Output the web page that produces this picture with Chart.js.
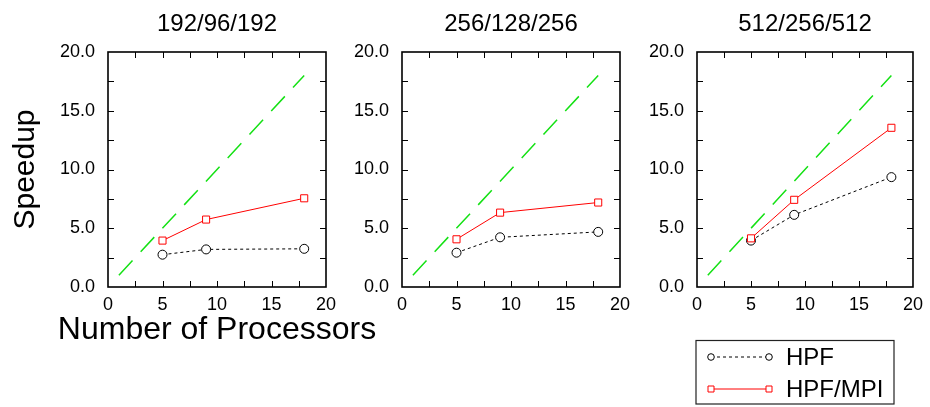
<!DOCTYPE html>
<html>
<head>
<meta charset="utf-8">
<script src="https://cdn.jsdelivr.net/npm/chart.js@4/dist/chart.umd.min.js"></script>
<style>
  body { margin: 0; background: #fff; }
  #wrap { position: relative; width: 930px; height: 407px; }
  canvas { position: absolute; top: 0; }
</style>
</head>
<body>
<div id="wrap">
  <canvas id="c1" width="400" height="407" style="left:0px"></canvas>
  <canvas id="c2" width="300" height="407" style="left:340px"></canvas>
  <canvas id="c3" width="300" height="407" style="left:630px"></canvas>
</div>
<script>
// data
const processors = [5, 9, 18];
const idealX = [1, 18];
const idealY = [1, 18];
const panelTitles = ['192/96/192', '256/128/256', '512/256/512'];
const hpfSpeedup = [
    [2.75, 3.2, 3.25],
    [2.92, 4.23, 4.69],
    [3.95, 6.14, 9.35]
];
const hpfMpiSpeedup = [
    [3.95, 5.74, 7.55],
    [4.06, 6.33, 7.19],
    [4.14, 7.42, 13.55]
];
const seriesLabels = ['HPF', 'HPF/MPI'];
const xAxisLabel = 'Number of Processors';
const frameTicks = [2.5, 5, 7.5, 10, 12.5, 15, 17.5];

const FONT = '"Liberation Sans", Arial, Helvetica, sans-serif';

function pts(xs, ys) {
    return xs.map((x, i) => ({ x: x, y: ys[i] }));
}

// box round the plot with inward ticks on all four sides
const framePlugin = {
    id: 'frame',
    afterDatasetsDraw(chart) {
        const { ctx, chartArea: a, scales } = chart;
        ctx.save();
        ctx.strokeStyle = '#000';
        ctx.lineWidth = 1;
        ctx.beginPath();
        frameTicks.forEach(v => {
            const px = Math.round(scales.x.getPixelForValue(v)) + 0.5;
            const py = Math.round(scales.y.getPixelForValue(v)) + 0.5;
            ctx.moveTo(px, a.bottom); ctx.lineTo(px, a.bottom - 6);
            ctx.moveTo(px, a.top); ctx.lineTo(px, a.top + 6);
            ctx.moveTo(a.left, py); ctx.lineTo(a.left + 6, py);
            ctx.moveTo(a.right, py); ctx.lineTo(a.right - 6, py);
        });
        ctx.stroke();
        ctx.lineWidth = 1.6;
        ctx.strokeRect(a.left, a.top, a.right - a.left, a.bottom - a.top);
        ctx.restore();
    }
};

// the x label of the first panel runs wider than its plot, so it is drawn here unsqueezed
const xLabelPlugin = {
    id: 'xLabel',
    afterDraw(chart) {
        const { ctx, chartArea: a } = chart;
        ctx.save();
        ctx.fillStyle = '#000';
        ctx.font = '32px ' + FONT;
        ctx.textAlign = 'center';
        ctx.textBaseline = 'alphabetic';
        ctx.fillText(xAxisLabel, (a.left + a.right) / 2, 339);
        ctx.restore();
    }
};

// legend box under the last panel
const legendPlugin = {
    id: 'boxLegend',
    afterDraw(chart) {
        const ctx = chart.ctx;
        const rows = [chart.data.datasets[1], chart.data.datasets[0]];
        ctx.save();
        ctx.strokeStyle = '#222';
        ctx.lineWidth = 1.2;
        ctx.strokeRect(66, 340.5, 198, 63.5);
        rows.forEach((ds, i) => {
            const y = 357 + i * 32;
            ctx.strokeStyle = ds.borderColor;
            ctx.lineWidth = ds.borderWidth;
            ctx.setLineDash(ds.borderDash || []);
            ctx.beginPath();
            ctx.moveTo(81, y); ctx.lineTo(139, y);
            ctx.stroke();
            ctx.setLineDash([]);
            ctx.lineWidth = 1;
            ctx.strokeStyle = ds.pointBorderColor;
            ctx.fillStyle = '#fff';
            [81, 139].forEach(x => {
                ctx.beginPath();
                if (ds.pointStyle === 'rect') {
                    ctx.rect(x - 3, y - 3, 6, 6);
                } else {
                    ctx.arc(x, y, 3.3, 0, Math.PI * 2);
                }
                ctx.fill();
                ctx.stroke();
            });
            ctx.fillStyle = '#000';
            ctx.font = '24px ' + FONT;
            ctx.textBaseline = 'middle';
            ctx.fillText(ds.label, 156, y + 1);
        });
        ctx.restore();
    }
};

const panelLayout = [
    { id: 'c1', yWidth: 108, padRight: 74 },
    { id: 'c2', yWidth: 62, padRight: 20 },
    { id: 'c3', yWidth: 67, padRight: 16 }
];

panelLayout.forEach((p, k) => {
    const first = k === 0;
    const extra = k === 0 ? [xLabelPlugin] : k === 2 ? [legendPlugin] : [];
    new Chart(document.getElementById(p.id).getContext('2d'), {
        type: 'line',
        data: {
            datasets: [{
                label: seriesLabels[1],
                data: pts(processors, hpfMpiSpeedup[k]),
                borderColor: '#ff0000',
                borderWidth: 1,
                pointStyle: 'rect',
                pointRadius: 5,
                pointBorderColor: '#ff0000',
                pointBackgroundColor: '#fff',
                pointBorderWidth: 1
            }, {
                label: seriesLabels[0],
                data: pts(processors, hpfSpeedup[k]),
                borderColor: '#000',
                borderWidth: 1,
                borderDash: [3, 3],
                pointStyle: 'circle',
                pointRadius: 4.5,
                pointBorderColor: '#000',
                pointBackgroundColor: '#fff',
                pointBorderWidth: 1
            }, {
                label: 'ideal',
                data: pts(idealX, idealY),
                borderColor: 'rgb(20, 225, 20)',
                borderWidth: 1.5,
                borderDash: [20, 12],
                pointRadius: 0
            }]
        },
        options: {
            responsive: false,
            animation: false,
            layout: { padding: { left: 0, right: p.padRight, top: 0, bottom: 0 } },
            plugins: {
                legend: { display: false },
                tooltip: { enabled: false },
                title: {
                    display: true,
                    text: panelTitles[k],
                    fullSize: false,
                    color: '#000',
                    font: { family: FONT, size: 24, weight: 'normal', lineHeight: 1.2 },
                    padding: { top: 9.6, bottom: 13.6 }
                }
            },
            scales: {
                x: {
                    type: 'linear',
                    min: 0, max: 20,
                    grid: { display: false, drawTicks: false },
                    border: { display: false },
                    ticks: { stepSize: 5, padding: 7, color: '#000', font: { family: FONT, size: 18 } },
                    afterFit(s) { s.height = 120; }
                },
                y: {
                    type: 'linear',
                    min: 0, max: 20,
                    grid: { display: false, drawTicks: false },
                    border: { display: false },
                    ticks: {
                        stepSize: 5, padding: 13, color: '#000',
                        font: { family: FONT, size: 18 },
                        callback: v => v.toFixed(1)
                    },
                    title: {
                        display: first,
                        text: 'Speedup',
                        color: '#000',
                        font: { family: FONT, size: 30, lineHeight: 1 },
                        padding: { top: 10.6, bottom: 0 }
                    },
                    afterFit(s) { s.width = p.yWidth; }
                }
            }
        },
        plugins: [framePlugin].concat(extra)
    });
});
</script>
</body>
</html>
